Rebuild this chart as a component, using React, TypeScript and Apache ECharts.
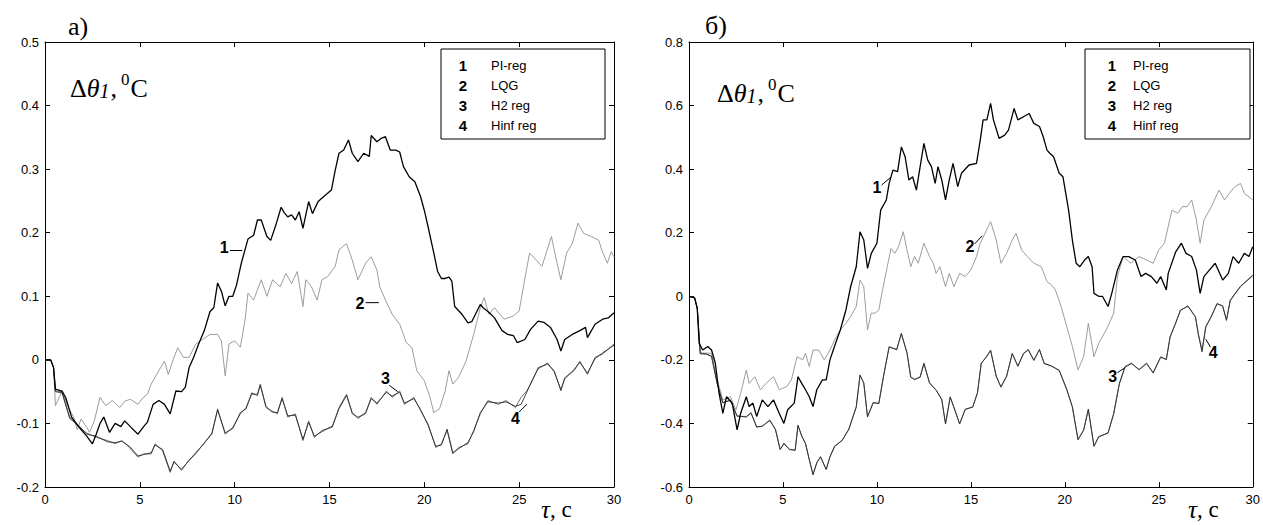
import React, { useEffect, useRef } from "react";
import * as echarts from "echarts";

// ---------- data (t in seconds, value in °C) ----------
const legendNames = ["PI-reg", "LQG", "H2 reg", "Hinf reg"];
const legendNums = ["1", "2", "3", "4"];

const leftRange = { min: -0.2, max: 0.5, interval: 0.1 };
const rightRange = { min: -0.6, max: 0.8, interval: 0.2 };
const xRange = { min: 0, max: 30, interval: 5 };

// panel a)
const a1 = [[0,0],[0.3,0],[0.45,-0.012],[0.55,-0.046],[0.9,-0.049],[1.1,-0.06],[1.4,-0.09],[1.8,-0.106],[2.2,-0.12],[2.5,-0.132],[2.7,-0.117],[2.9,-0.1],[3.1,-0.09],[3.4,-0.114],[3.7,-0.1],[4.0,-0.105],[4.2,-0.096],[4.5,-0.105],[4.9,-0.117],[5.2,-0.105],[5.4,-0.098],[5.7,-0.07],[6.0,-0.064],[6.3,-0.07],[6.6,-0.085],[6.9,-0.049],[7.2,-0.05],[7.4,-0.043],[7.6,-0.012],[7.85,0.005],[8.1,0.025],[8.4,0.046],[8.7,0.076],[8.9,0.082],[9.1,0.121],[9.3,0.108],[9.5,0.085],[9.7,0.1],[9.9,0.1],[10.1,0.118],[10.35,0.152],[10.7,0.19],[11.0,0.196],[11.2,0.22],[11.4,0.22],[11.7,0.194],[11.9,0.188],[12.2,0.215],[12.45,0.24],[12.6,0.232],[12.8,0.225],[13.0,0.228],[13.2,0.22],[13.4,0.233],[13.6,0.207],[13.9,0.249],[14.1,0.23],[14.4,0.249],[14.7,0.257],[15.1,0.267],[15.3,0.298],[15.5,0.325],[15.75,0.33],[16.0,0.346],[16.2,0.325],[16.5,0.312],[16.8,0.325],[17.1,0.32],[17.2,0.353],[17.5,0.343],[17.7,0.348],[17.95,0.351],[18.2,0.33],[18.5,0.33],[18.7,0.327],[18.9,0.304],[19.2,0.288],[19.5,0.28],[19.8,0.257],[20.0,0.235],[20.2,0.209],[20.5,0.168],[20.7,0.139],[20.9,0.128],[21.1,0.128],[21.3,0.13],[21.45,0.124],[21.6,0.084],[21.95,0.073],[22.3,0.058],[22.5,0.06],[22.95,0.087],[23.1,0.082],[23.4,0.075],[23.7,0.066],[24.1,0.046],[24.4,0.04],[24.7,0.038],[24.9,0.027],[25.3,0.032],[25.6,0.048],[26.0,0.061],[26.3,0.059],[26.65,0.051],[27.0,0.032],[27.2,0.014],[27.4,0.032],[27.8,0.04],[28.2,0.046],[28.5,0.051],[28.6,0.035],[29.0,0.056],[29.4,0.064],[29.7,0.066],[30,0.074]];
const a2 = [[0,0],[0.3,0],[0.45,-0.012],[0.55,-0.072],[0.9,-0.049],[1.2,-0.072],[1.5,-0.09],[1.7,-0.11],[1.9,-0.093],[2.2,-0.106],[2.35,-0.114],[2.6,-0.096],[2.9,-0.059],[3.2,-0.072],[3.55,-0.064],[3.95,-0.075],[4.2,-0.065],[4.5,-0.062],[4.9,-0.07],[5.15,-0.06],[5.4,-0.054],[5.6,-0.038],[6.0,-0.017],[6.3,-0.002],[6.5,-0.023],[6.75,0.0],[7.0,0.019],[7.3,0.004],[7.6,0.004],[7.95,0.025],[8.3,0.032],[8.7,0.04],[9.1,0.04],[9.3,0.03],[9.5,-0.025],[9.7,0.025],[10.0,0.03],[10.3,0.02],[10.55,0.063],[10.7,0.105],[11.0,0.094],[11.4,0.126],[11.7,0.1],[12.0,0.126],[12.4,0.115],[12.7,0.136],[13.0,0.12],[13.3,0.139],[13.6,0.084],[13.75,0.126],[14.05,0.115],[14.35,0.094],[14.6,0.126],[14.9,0.131],[15.3,0.147],[15.5,0.173],[15.9,0.183],[16.2,0.157],[16.5,0.126],[16.9,0.152],[17.2,0.162],[17.5,0.141],[17.65,0.115],[17.95,0.094],[18.3,0.072],[18.7,0.056],[19.05,0.027],[19.35,0.019],[19.6,-0.017],[20.0,-0.033],[20.3,-0.059],[20.5,-0.083],[20.8,-0.077],[21.1,-0.049],[21.3,-0.017],[21.5,-0.038],[21.8,-0.028],[22.2,-0.002],[22.6,0.04],[22.95,0.082],[23.15,0.098],[23.4,0.072],[23.7,0.082],[24.2,0.064],[24.7,0.069],[25.0,0.077],[25.3,0.128],[25.55,0.168],[25.9,0.157],[26.2,0.147],[26.7,0.194],[27.0,0.152],[27.2,0.126],[27.5,0.168],[27.8,0.183],[28.1,0.215],[28.4,0.199],[28.8,0.194],[29.2,0.188],[29.35,0.173],[29.65,0.152],[29.85,0.17],[30,0.162]];
const a3 = [[0,0],[0.3,0],[0.45,-0.012],[0.55,-0.049],[0.9,-0.05],[1.3,-0.09],[1.8,-0.106],[2.2,-0.115],[2.7,-0.122],[3.3,-0.127],[3.7,-0.132],[4.05,-0.127],[4.45,-0.138],[4.9,-0.153],[5.2,-0.148],[5.6,-0.148],[5.8,-0.132],[6.2,-0.143],[6.6,-0.177],[6.8,-0.159],[7.2,-0.174],[7.55,-0.159],[7.95,-0.148],[8.35,-0.132],[8.8,-0.117],[9.1,-0.077],[9.5,-0.117],[9.9,-0.106],[10.3,-0.085],[10.6,-0.075],[10.9,-0.054],[11.2,-0.054],[11.35,-0.038],[11.65,-0.075],[11.95,-0.08],[12.25,-0.085],[12.5,-0.059],[12.8,-0.09],[13.2,-0.085],[13.6,-0.127],[13.9,-0.096],[14.2,-0.122],[14.6,-0.111],[15.15,-0.106],[15.5,-0.075],[15.9,-0.054],[16.2,-0.085],[16.5,-0.09],[16.9,-0.085],[17.2,-0.059],[17.5,-0.07],[18.0,-0.049],[18.3,-0.059],[18.7,-0.049],[18.95,-0.07],[19.45,-0.059],[19.8,-0.08],[20.2,-0.101],[20.6,-0.138],[20.9,-0.132],[21.2,-0.111],[21.5,-0.148],[21.8,-0.138],[22.3,-0.132],[22.6,-0.111],[22.95,-0.085],[23.35,-0.064],[23.9,-0.07],[24.3,-0.064],[24.8,-0.075],[25.1,-0.059],[25.4,-0.049],[25.7,-0.033],[26.0,-0.012],[26.5,-0.007],[26.85,-0.017],[27.2,-0.049],[27.4,-0.028],[27.9,-0.017],[28.2,-0.002],[28.6,-0.023],[29.0,0.004],[29.4,0.009],[30,0.025]];
const a4 = [[0,0],[0.3,0],[0.45,-0.012],[0.55,-0.05],[0.9,-0.052],[1.3,-0.092],[1.8,-0.104],[2.2,-0.117],[2.7,-0.12],[3.3,-0.129],[3.7,-0.13],[4.05,-0.128],[4.45,-0.136],[4.9,-0.151],[5.2,-0.149],[5.6,-0.146],[5.8,-0.134],[6.2,-0.141],[6.6,-0.175],[6.8,-0.161],[7.2,-0.172],[7.55,-0.16],[7.95,-0.146],[8.35,-0.133],[8.8,-0.115],[9.1,-0.079],[9.5,-0.115],[9.9,-0.108],[10.3,-0.083],[10.6,-0.077],[10.9,-0.052],[11.2,-0.056],[11.35,-0.04],[11.65,-0.073],[11.95,-0.082],[12.25,-0.083],[12.5,-0.061],[12.8,-0.088],[13.2,-0.087],[13.6,-0.125],[13.9,-0.098],[14.2,-0.12],[14.6,-0.113],[15.15,-0.104],[15.5,-0.077],[15.9,-0.056],[16.2,-0.083],[16.5,-0.092],[16.9,-0.083],[17.2,-0.061],[17.5,-0.068],[18.0,-0.051],[18.3,-0.057],[18.7,-0.051],[18.95,-0.068],[19.45,-0.061],[19.8,-0.078],[20.2,-0.103],[20.6,-0.136],[20.9,-0.134],[21.2,-0.109],[21.5,-0.146],[21.8,-0.14],[22.3,-0.13],[22.6,-0.113],[22.95,-0.083],[23.35,-0.066],[23.9,-0.068],[24.3,-0.066],[24.8,-0.073],[25.1,-0.07],[25.4,-0.051],[25.7,-0.031],[26.0,-0.014],[26.5,-0.005],[26.85,-0.019],[27.2,-0.047],[27.4,-0.03],[27.9,-0.015],[28.2,-0.004],[28.6,-0.021],[29.0,0.002],[29.4,0.011],[30,0.023]];

// panel б)
const b1 = [[0,0],[0.3,-0.005],[0.44,-0.038],[0.54,-0.148],[0.73,-0.169],[1.0,-0.158],[1.2,-0.169],[1.4,-0.21],[1.6,-0.305],[1.8,-0.368],[2.0,-0.316],[2.3,-0.336],[2.56,-0.42],[2.75,-0.368],[3.05,-0.316],[3.2,-0.347],[3.4,-0.336],[3.6,-0.378],[3.9,-0.326],[4.2,-0.347],[4.5,-0.326],[4.8,-0.368],[5.05,-0.4],[5.25,-0.357],[5.6,-0.336],[5.8,-0.253],[6.0,-0.274],[6.2,-0.294],[6.4,-0.316],[6.6,-0.347],[6.8,-0.294],[7.1,-0.263],[7.3,-0.263],[7.5,-0.2],[7.8,-0.148],[8.05,-0.106],[8.35,-0.043],[8.6,0.03],[8.9,0.093],[9.1,0.203],[9.3,0.177],[9.5,0.088],[9.7,0.135],[10.0,0.167],[10.2,0.271],[10.5,0.303],[10.65,0.355],[10.85,0.397],[11.1,0.392],[11.3,0.47],[11.5,0.439],[11.7,0.366],[11.9,0.376],[12.1,0.334],[12.3,0.408],[12.5,0.481],[12.7,0.429],[12.9,0.408],[13.1,0.355],[13.25,0.408],[13.45,0.366],[13.65,0.303],[13.85,0.366],[14.05,0.418],[14.3,0.345],[14.5,0.387],[14.9,0.413],[15.3,0.418],[15.5,0.492],[15.65,0.555],[15.85,0.555],[16.05,0.607],[16.2,0.555],[16.5,0.497],[16.8,0.507],[17.0,0.523],[17.3,0.591],[17.5,0.555],[17.8,0.565],[18.1,0.575],[18.35,0.544],[18.65,0.534],[18.85,0.502],[19.05,0.46],[19.2,0.45],[19.4,0.439],[19.7,0.387],[19.9,0.376],[20.2,0.271],[20.4,0.177],[20.6,0.104],[20.8,0.093],[21.05,0.114],[21.25,0.125],[21.45,0.093],[21.55,0.009],[21.8,0.0],[22.0,0.0],[22.3,-0.032],[22.5,0.01],[22.8,0.083],[23.1,0.125],[23.4,0.125],[23.75,0.114],[24.05,0.062],[24.3,0.072],[24.6,0.062],[24.9,0.041],[25.1,0.062],[25.4,0.02],[25.5,0.072],[25.9,0.14],[26.2,0.167],[26.45,0.135],[26.75,0.125],[27.0,0.083],[27.2,0.009],[27.4,0.062],[27.7,0.083],[28.0,0.104],[28.4,0.051],[28.7,0.072],[28.95,0.125],[29.25,0.104],[29.55,0.135],[29.8,0.125],[30,0.156]];
const b2 = [[0,0],[0.3,-0.005],[0.44,-0.038],[0.6,-0.179],[0.9,-0.179],[1.2,-0.179],[1.5,-0.263],[1.8,-0.326],[2.2,-0.316],[2.5,-0.357],[2.75,-0.305],[3.05,-0.232],[3.2,-0.274],[3.5,-0.253],[3.8,-0.294],[4.1,-0.274],[4.5,-0.253],[4.8,-0.294],[5.2,-0.284],[5.45,-0.263],[5.75,-0.19],[6.05,-0.2],[6.2,-0.179],[6.4,-0.221],[6.6,-0.169],[6.9,-0.169],[7.2,-0.2],[7.5,-0.169],[7.75,-0.137],[8.05,-0.106],[8.35,-0.085],[8.6,-0.064],[8.9,-0.032],[9.1,0.051],[9.3,0.03],[9.5,-0.106],[9.7,-0.053],[9.9,-0.053],[10.1,-0.043],[10.3,0.02],[10.55,0.093],[10.75,0.15],[10.95,0.135],[11.15,0.156],[11.4,0.203],[11.6,0.146],[11.8,0.093],[12.0,0.125],[12.2,0.104],[12.5,0.167],[12.8,0.125],[13.0,0.104],[13.15,0.072],[13.35,0.093],[13.65,0.03],[13.85,0.072],[14.1,0.03],[14.4,0.072],[14.7,0.062],[15.0,0.083],[15.3,0.125],[15.5,0.167],[15.75,0.198],[16.05,0.235],[16.35,0.177],[16.6,0.104],[16.9,0.135],[17.2,0.177],[17.4,0.198],[17.7,0.146],[18.0,0.125],[18.35,0.104],[18.75,0.093],[19.05,0.046],[19.3,0.035],[19.5,0.02],[19.8,-0.032],[20.1,-0.095],[20.4,-0.158],[20.7,-0.232],[21.0,-0.19],[21.25,-0.085],[21.55,-0.19],[21.8,-0.148],[22.2,-0.106],[22.6,-0.053],[22.8,0.062],[23.1,0.125],[23.5,0.104],[23.95,0.125],[24.35,0.114],[24.7,0.104],[25.0,0.146],[25.3,0.167],[25.7,0.271],[26.0,0.261],[26.25,0.282],[26.5,0.282],[26.75,0.303],[27.0,0.24],[27.2,0.167],[27.4,0.24],[27.8,0.282],[28.2,0.334],[28.5,0.303],[28.75,0.324],[29.05,0.345],[29.35,0.355],[29.55,0.324],[29.8,0.313],[30,0.303]];
const b3 = [[0,0],[0.3,-0.005],[0.44,-0.038],[0.6,-0.179],[0.9,-0.18],[1.2,-0.19],[1.5,-0.274],[1.8,-0.336],[2.2,-0.326],[2.56,-0.378],[3.05,-0.378],[3.3,-0.368],[3.6,-0.41],[3.9,-0.41],[4.3,-0.389],[4.6,-0.42],[4.85,-0.483],[5.05,-0.462],[5.35,-0.483],[5.65,-0.483],[5.8,-0.405],[6.0,-0.441],[6.2,-0.462],[6.4,-0.515],[6.6,-0.56],[6.8,-0.525],[7.0,-0.504],[7.3,-0.546],[7.5,-0.504],[7.75,-0.473],[8.15,-0.452],[8.5,-0.42],[8.9,-0.347],[9.1,-0.247],[9.3,-0.274],[9.5,-0.378],[9.8,-0.336],[10.1,-0.336],[10.35,-0.253],[10.65,-0.158],[11.05,-0.169],[11.3,-0.116],[11.6,-0.179],[11.8,-0.253],[12.0,-0.263],[12.3,-0.253],[12.5,-0.21],[12.8,-0.274],[13.15,-0.294],[13.45,-0.326],[13.65,-0.4],[13.9,-0.316],[14.2,-0.368],[14.4,-0.4],[14.7,-0.357],[15.1,-0.347],[15.35,-0.305],[15.55,-0.21],[15.85,-0.19],[16.05,-0.169],[16.35,-0.253],[16.6,-0.284],[16.9,-0.253],[17.2,-0.179],[17.5,-0.221],[17.8,-0.179],[18.05,-0.169],[18.35,-0.2],[18.65,-0.169],[18.9,-0.21],[19.3,-0.221],[19.7,-0.232],[20.1,-0.294],[20.4,-0.347],[20.7,-0.452],[21.0,-0.42],[21.25,-0.357],[21.55,-0.473],[21.8,-0.441],[22.3,-0.431],[22.6,-0.368],[22.9,-0.274],[23.2,-0.221],[23.55,-0.21],[23.95,-0.232],[24.35,-0.21],[24.7,-0.242],[25.1,-0.19],[25.4,-0.2],[25.6,-0.127],[25.9,-0.085],[26.15,-0.043],[26.55,-0.032],[26.95,-0.064],[27.1,-0.116],[27.3,-0.169],[27.5,-0.095],[27.8,-0.064],[28.1,-0.022],[28.4,-0.032],[28.6,-0.074],[28.8,-0.012],[29.05,0.009],[29.35,0.03],[29.7,0.051],[30,0.067]];
const b4 = [[0,0],[0.3,-0.005],[0.44,-0.038],[0.6,-0.181],[0.9,-0.182],[1.2,-0.188],[1.5,-0.276],[1.8,-0.334],[2.2,-0.328],[2.56,-0.376],[3.05,-0.38],[3.3,-0.366],[3.6,-0.412],[3.9,-0.408],[4.3,-0.391],[4.6,-0.418],[4.85,-0.481],[5.05,-0.464],[5.35,-0.481],[5.65,-0.485],[5.8,-0.407],[6.0,-0.439],[6.2,-0.464],[6.4,-0.513],[6.6,-0.562],[6.8,-0.523],[7.0,-0.506],[7.3,-0.544],[7.5,-0.506],[7.75,-0.471],[8.15,-0.454],[8.5,-0.418],[8.9,-0.349],[9.1,-0.249],[9.3,-0.272],[9.5,-0.38],[9.8,-0.334],[10.1,-0.338],[10.35,-0.251],[10.65,-0.16],[11.05,-0.167],[11.3,-0.118],[11.6,-0.177],[11.8,-0.255],[12.0,-0.261],[12.3,-0.255],[12.5,-0.212],[12.8,-0.272],[13.15,-0.296],[13.45,-0.324],[13.65,-0.402],[13.9,-0.318],[14.2,-0.366],[14.4,-0.402],[14.7,-0.355],[15.1,-0.349],[15.35,-0.303],[15.55,-0.212],[15.85,-0.188],[16.05,-0.171],[16.35,-0.251],[16.6,-0.286],[16.9,-0.251],[17.2,-0.181],[17.5,-0.219],[17.8,-0.181],[18.05,-0.167],[18.35,-0.202],[18.65,-0.167],[18.9,-0.212],[19.3,-0.219],[19.7,-0.234],[20.1,-0.292],[20.4,-0.349],[20.7,-0.45],[21.0,-0.422],[21.25,-0.355],[21.55,-0.471],[21.8,-0.443],[22.3,-0.429],[22.6,-0.37],[22.9,-0.276],[23.2,-0.223],[23.55,-0.212],[23.95,-0.23],[24.35,-0.212],[24.7,-0.24],[25.1,-0.192],[25.4,-0.198],[25.6,-0.129],[25.9,-0.083],[26.15,-0.045],[26.55,-0.03],[26.95,-0.066],[27.1,-0.12],[27.3,-0.175],[27.5,-0.097],[27.8,-0.062],[28.1,-0.024],[28.4,-0.03],[28.6,-0.076],[28.8,-0.014],[29.05,0.007],[29.35,0.032],[29.7,0.049],[30,0.065]];

// curve number labels: [label position, dash start, dash end]
const notesA = [
  { n: "1", at: [9.45, 0.176], from: [9.75, 0.172], to: [10.4, 0.172] },
  { n: "2", at: [16.6, 0.088], from: [16.9, 0.09], to: [17.6, 0.09] },
  { n: "3", at: [17.95, -0.03], from: [18.15, -0.04], to: [18.6, -0.05] },
  { n: "4", at: [24.8, -0.092], from: [25.0, -0.082], to: [25.4, -0.07] },
];
const notesB = [
  { n: "1", at: [10.0, 0.341], from: [10.25, 0.35], to: [10.75, 0.375] },
  { n: "2", at: [14.95, 0.156], from: [15.2, 0.165], to: [15.6, 0.19] },
  { n: "3", at: [22.55, -0.252], from: [22.8, -0.24], to: [23.2, -0.225] },
  { n: "4", at: [27.9, -0.178], from: [27.75, -0.16], to: [27.5, -0.135] },
];

const SANS = "'Liberation Sans', Arial, Helvetica, sans-serif";
const SERIF = "'Liberation Serif', 'Times New Roman', serif";

const fmtY = (v: number) => {
  const r = Math.round(v * 10) / 10;
  return r === 0 ? "0" : String(r);
};

function xAxes(gridIndex: number) {
  const base = {
    gridIndex,
    type: "value",
    min: xRange.min,
    max: xRange.max,
    interval: xRange.interval,
    axisLine: { show: true, onZero: false, lineStyle: { color: "#000", width: 1 } },
    axisTick: { show: true, inside: true, length: 5, lineStyle: { color: "#000" } },
    splitLine: { show: false },
  };
  return [
    { ...base, position: "bottom", axisLabel: { color: "#000", fontFamily: SANS, fontSize: 13, margin: 6 } },
    { ...base, position: "top", axisLabel: { show: false } },
  ];
}

function yAxes(gridIndex: number, r: { min: number; max: number; interval: number }) {
  const base = {
    gridIndex,
    type: "value",
    min: r.min,
    max: r.max,
    interval: r.interval,
    axisLine: { show: true, onZero: false, lineStyle: { color: "#000", width: 1 } },
    axisTick: { show: true, inside: true, length: 5, lineStyle: { color: "#000" } },
    splitLine: { show: false },
  };
  return [
    { ...base, position: "left", axisLabel: { color: "#000", fontFamily: SANS, fontSize: 13, margin: 6, formatter: fmtY } },
    { ...base, position: "right", axisLabel: { show: false } },
  ];
}

const styles = [
  { color: "#000000", width: 1.3 },
  { color: "#9c9c9c", width: 1 },
  { color: "#6e6e6e", width: 1 },
  { color: "#2e2e2e", width: 0.9 },
];

function lineSeries(data: number[][], idx: number, axis: number) {
  return {
    type: "line",
    name: legendNames[idx],
    data,
    xAxisIndex: axis,
    yAxisIndex: axis,
    showSymbol: false,
    symbol: "none",
    lineStyle: { color: styles[idx].color, width: styles[idx].width },
    itemStyle: { color: styles[idx].color },
    z: idx === 0 ? 5 : 3,
  };
}

const option = {
  animation: false,
  backgroundColor: "#fff",
  grid: [
    { left: 45, top: 42, width: 569, height: 445 },
    { left: 689, top: 42, width: 567, height: 445 },
  ],
  xAxis: [...xAxes(0), ...xAxes(1)],
  yAxis: [...yAxes(0, leftRange), ...yAxes(1, rightRange)],
  series: [
    lineSeries(a2, 1, 0),
    lineSeries(a3, 2, 0),
    lineSeries(a4, 3, 0),
    lineSeries(a1, 0, 0),
    lineSeries(b2, 1, 2),
    lineSeries(b3, 2, 2),
    lineSeries(b4, 3, 2),
    lineSeries(b1, 0, 2),
  ],
};

function legendBox(x: number, y: number, w: number, numX: number, textX: number) {
  const els: any[] = [
    { type: "rect", shape: { x, y, width: w, height: 90 }, style: { fill: "#fff", stroke: "#000", lineWidth: 1 }, z: 100 },
  ];
  legendNames.forEach((name, i) => {
    const cy = y + 16 + i * 20;
    els.push({
      type: "text", x: numX, y: cy, z: 101,
      style: { text: legendNums[i], font: `bold 15px ${SANS}`, fill: "#000", align: "center", verticalAlign: "middle" },
    });
    els.push({
      type: "text", x: textX, y: cy, z: 101,
      style: { text: name, font: `13px ${SANS}`, fill: "#000", align: "left", verticalAlign: "middle" },
    });
  });
  return els;
}

function yLabel(x: number, y: number) {
  return {
    type: "text", x, y, z: 50,
    style: {
      text: "{d|Δ}{t|θ}{i|1}{d|,}{s|0}{d|C}",
      fill: "#000",
      align: "left",
      verticalAlign: "middle",
      rich: {
        d: { fontFamily: SERIF, fontSize: 26, lineHeight: 30, verticalAlign: "bottom" },
        t: { fontFamily: SERIF, fontSize: 26, fontStyle: "italic", lineHeight: 30, verticalAlign: "bottom" },
        i: { fontFamily: SERIF, fontSize: 20, fontStyle: "italic", lineHeight: 30, verticalAlign: "bottom", padding: [0, 1, 0, 0] },
        s: { fontFamily: SERIF, fontSize: 17, lineHeight: 30, verticalAlign: "top", padding: [0, 1, 0, 4] },
      },
    },
  };
}

function xLabel(x: number, y: number) {
  return {
    type: "text", x, y, z: 50,
    style: {
      text: "{t|τ}{d|, c}",
      fill: "#000",
      align: "left",
      verticalAlign: "middle",
      rich: {
        t: { fontFamily: SERIF, fontSize: 25, fontStyle: "italic", lineHeight: 24 },
        d: { fontFamily: SERIF, fontSize: 23, lineHeight: 24 },
      },
    },
  };
}

export default function App() {
  const ref = useRef<HTMLDivElement>(null);
  useEffect(() => {
    const chart = echarts.init(ref.current!, null, { renderer: "svg" });
    chart.setOption(option as any);

    const g: any[] = [];
    const addNotes = (notes: typeof notesA, gridIndex: number) => {
      notes.forEach((nt) => {
        const p = chart.convertToPixel({ gridIndex } as any, nt.at) as number[];
        const a = chart.convertToPixel({ gridIndex } as any, nt.from) as number[];
        const b = chart.convertToPixel({ gridIndex } as any, nt.to) as number[];
        g.push({
          type: "text", x: p[0], y: p[1], z: 60,
          style: { text: nt.n, font: `bold 16px ${SANS}`, fill: "#000", align: "center", verticalAlign: "middle" },
        });
        g.push({
          type: "line", z: 60,
          shape: { x1: a[0], y1: a[1], x2: b[0], y2: b[1] },
          style: { stroke: "#000", lineWidth: 1 },
        });
      });
    };
    addNotes(notesA, 0);
    addNotes(notesB, 1);

    g.push(...legendBox(441, 49, 164, 463, 491));
    g.push(...legendBox(1085, 49, 165, 1112, 1133));
    g.push(yLabel(70, 86));
    g.push(yLabel(717, 91));
    g.push({ type: "text", x: 68, y: 26, z: 50, style: { text: "a)", font: `26px ${SERIF}`, fill: "#000", align: "left", verticalAlign: "middle" } });
    g.push({ type: "text", x: 705, y: 25, z: 50, style: { text: "б)", font: `26px ${SERIF}`, fill: "#000", align: "left", verticalAlign: "middle" } });
    g.push(xLabel(541, 509));
    g.push(xLabel(1188, 509));

    chart.setOption({ graphic: g } as any);
    return () => chart.dispose();
  }, []);
  return (
    <div
      ref={ref}
      style={{ position: "fixed", left: 0, top: 0, width: 1263, height: 525, background: "#fff" }}
    />
  );
}
